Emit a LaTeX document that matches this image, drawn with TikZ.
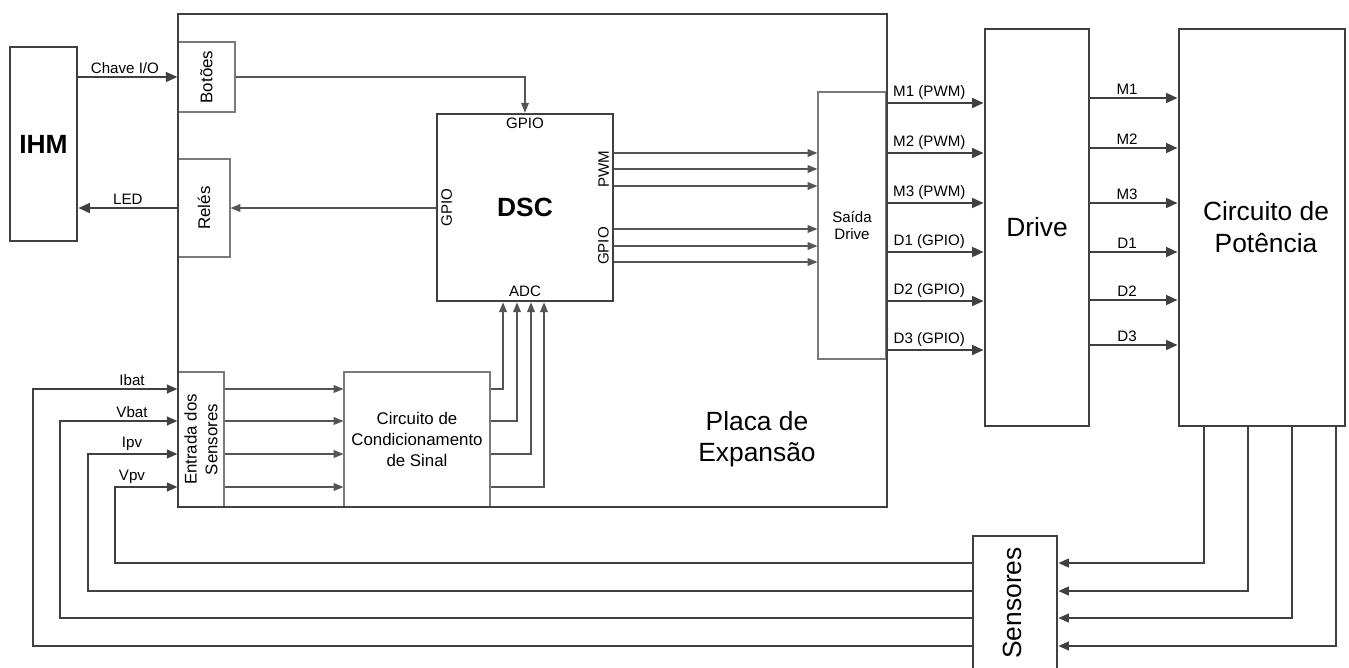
\documentclass[tikz,border=0pt]{standalone}
\usepackage{fontspec}
\setmainfont{Liberation Sans}
\usetikzlibrary{arrows.meta}
\definecolor{linec}{HTML}{404040}
\definecolor{subc}{HTML}{7A7A7A}
\definecolor{wirec}{HTML}{555555}

\begin{document}
\begin{tikzpicture}[x=0.02cm, y=-0.02cm,
	blk/.style={shape=rectangle, draw=linec, line width=1.6pt, inner sep=0pt},
	subblk/.style={shape=rectangle, draw=subc, line width=0.7pt, inner sep=0pt},
	bigtxt/.style={font=\fontsize{15}{18}\selectfont, align=center},
	boldtxt/.style={font=\fontsize{15}{18}\selectfont\bfseries, align=center},
	midtxt/.style={font=\fontsize{9.6}{11.8}\selectfont, align=center},
	smalltxt/.style={font=\fontsize{8.6}{9.6}\selectfont, align=center, inner sep=1.5pt},
	porttxt/.style={font=\fontsize{8.6}{9.6}\selectfont, inner sep=3pt},
	extwire/.style={draw=linec, line width=1.3pt, -{Triangle[length=6.5pt,width=5.5pt]}},
	senswire/.style={draw=linec, line width=1.1pt, -{Triangle[length=6pt,width=5pt]}},
	sigwire/.style={draw=wirec, line width=0.6pt, -{Triangle[length=5.5pt,width=4.4pt]}},
]
	\useasboundingbox (0,0) rectangle (1349,667);
	% Paths, nodes and wires:
	\node[subblk, minimum width=1.14cm, minimum height=1.4cm] (botoes) at (206.5,77) {};
	\node[midtxt, rotate=90] (botoestxt) at (botoes) {Botões};
	\node[subblk, minimum width=1.04cm, minimum height=1.96cm] (reles) at (204,208) {};
	\node[midtxt, rotate=90] (relestxt) at (reles) {Relés};
	\node[subblk, minimum width=0.92cm, minimum height=2.7cm] (entrada) at (201,439.5) {};
	\node[midtxt, rotate=90] (entradatxt) at (entrada) {Entrada dos\\Sensores};
	\node[subblk, minimum width=2.92cm, minimum height=2.7cm] (cond) at (417,439.5) {};
	\node[midtxt] (condtxt) at (cond) {Circuito de\\Condicionamento\\de Sinal};
	\node[subblk, minimum width=1.36cm, minimum height=5.34cm] (saida) at (852,225.5) {};
	\node[smalltxt] (saidatxt) at (saida) {Saída\\Drive};
	\node[blk, minimum width=14.18cm, minimum height=9.86cm] (placa) at (532.5,260.5) {};
	\node[bigtxt] (placatxt) at (757,439) {Placa de\\Expansão};
	\node[blk, minimum width=1.34cm, minimum height=3.88cm] (ihm) at (43.5,144) {};
	\node[boldtxt] (ihmtxt) at (ihm) {IHM};
	\node[blk, minimum width=3.52cm, minimum height=3.74cm] (dsc) at (525,207.5) {};
	\node[boldtxt] (dsctxt) at (dsc) {DSC};
	\node[porttxt, anchor=north] (gpiotop) at (dsc.north) {GPIO};
	\node[porttxt, anchor=south] (adc) at (dsc.south) {ADC};
	\node[porttxt, rotate=90, anchor=north] (gpioleft) at (dsc.west) {GPIO};
	\node[porttxt, rotate=90, anchor=south] (pwm) at (dsc.east |- 0,169) {PWM};
	\node[porttxt, rotate=90, anchor=south] (gpioright) at (dsc.east |- 0,246) {GPIO};
	\node[blk, minimum width=2.08cm, minimum height=7.94cm] (drive) at (1037,227.5) {};
	\node[bigtxt] (drivetxt) at (drive) {Drive};
	\node[blk, minimum width=3.32cm, minimum height=7.94cm] (circ) at (1262,227.5) {};
	\node[bigtxt] (circtxt) at (1266,227) {Circuito de\\Potência};
	\node[blk, minimum width=1.68cm, minimum height=2.68cm] (sens) at (1015,603) {};
	\node[bigtxt, rotate=90] (senstxt) at (1012,603) {Sensores};
	% IHM
	\draw[extwire] (ihm.east |- botoes.west) -- node[smalltxt, above, pos=0.47]{Chave I/O} (botoes.west);
	\draw[extwire] (reles.west) -- node[smalltxt, above]{LED} (ihm.east |- reles.west);
	\draw[sigwire] (botoes.east) -| (dsc.north);
	\draw[sigwire] (dsc.west |- reles.east) -- (reles.east);
	% DSC -> drive
	\foreach \y in {153,169,186,229,246,262}
		\draw[sigwire] (dsc.east |- 0,\y) -- (saida.west |- 0,\y);
	\foreach \y/\t in {103/{M1 (PWM)},153/{M2 (PWM)},203/{M3 (PWM)},252/{D1 (GPIO)},301/{D2 (GPIO)},350/{D3 (GPIO)}}
		\draw[extwire] (placa.east |- 0,\y) -- node[smalltxt, above, pos=0.43]{\t} (drive.west |- 0,\y);
	\foreach \y/\t in {98/M1,148/M2,203/M3,252/D1,300/D2,345/D3}
		\draw[extwire] (drive.east |- 0,\y) -- node[smalltxt, above, pos=0.42]{\t} (circ.west |- 0,\y);
	% sensores
	\foreach \x/\y in {1204/563,1248/591,1292/618,1336/646}
		\draw[senswire] (circ.south -| \x,0) |- (sens.east |- 0,\y);
	\foreach \y/\x/\yin/\t in {646/33/389/Ibat,618/60/421/Vbat,591/88/454/Ipv,563/115/487/Vpv}{
		\draw[senswire] (sens.west |- 0,\y) -| (\x,\yin) -- (entrada.west |- 0,\yin);
		\node[smalltxt, above] (lbl\t) at (132,\yin) {\t};
	}
	\foreach \y in {389,421,454,487}
		\draw[sigwire] (entrada.east |- 0,\y) -- (cond.west |- 0,\y);
	\foreach \y/\x in {389/503,421/517,454/531,487/544}
		\draw[sigwire] (cond.east |- 0,\y) -| (dsc.south -| \x,0);
\end{tikzpicture}
\end{document}
